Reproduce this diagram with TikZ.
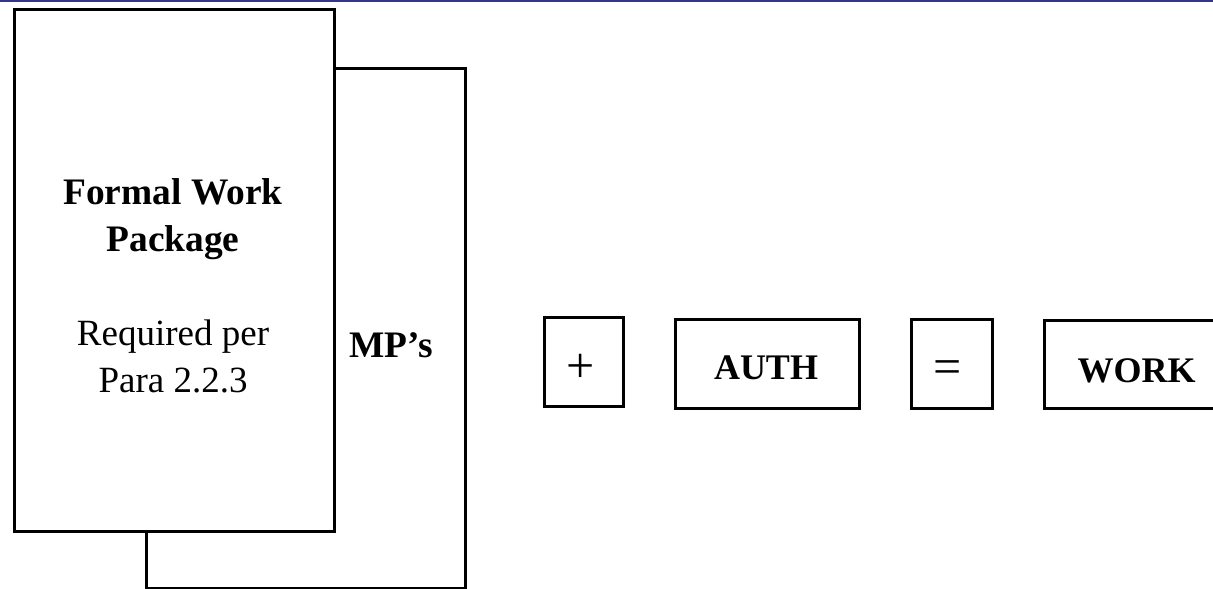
\documentclass[tikz,border=0pt]{standalone}
\usepackage{fontspec}
\setmainfont{Liberation Serif}
\begin{document}
\begin{tikzpicture}[x=0.5pt,y=-0.5pt,
  frame/.style={draw=black, line width=1.3pt, fill=white, inner sep=0pt, anchor=north west},
  txt/.style={inner sep=0pt, anchor=base, font=\fontsize{18.5}{22}\selectfont},
  btxt/.style={txt, font=\fontsize{18.7}{22}\selectfont\bfseries},
  rowtxt/.style={txt, font=\fontsize{18}{22}\selectfont\bfseries},
  sym/.style={inner sep=0pt, font=\fontsize{25}{28}\selectfont}]
  \definecolor{rulecol}{RGB}{52,54,138}
  \useasboundingbox (0,0) rectangle (1213,588);
  % top rule
  \fill[rulecol] (0,0) rectangle (1213,2);
  % stacked sheets: MP's behind, work package in front
  \node[frame, minimum width=159.5pt, minimum height=260pt] (mps) at (145,67) {};
  \node[frame, minimum width=160pt, minimum height=261pt] (pkg) at (13,8) {};
  \node[btxt] (t1) at (173,205) {Formal Work};
  \node[btxt] (t2) at (173,251) {Package};
  \node[txt]  (t3) at (173,345) {Required per};
  \node[txt]  (t4) at (173,392) {Para 2.2.3};
  \node[btxt] (t5) at (391,357) {MP’s};
  % equation row
  \node[frame, minimum width=39.5pt, minimum height=44.5pt] (plusbox) at (543,316) {};
  \node[frame, minimum width=92pt, minimum height=44.5pt] (authbox) at (674,318) {};
  \node[frame, minimum width=40.5pt, minimum height=44.5pt] (eqbox) at (910,318) {};
  \node[frame, minimum width=95pt, minimum height=44pt] (workbox) at (1043,319) {};
  \node[sym] (plus) at (581,368) {+};
  \node[sym] (eq) at (948,372) {=};
  \node[rowtxt] (auth) at (766,379) {AUTH};
  \node[rowtxt] (work) at (1136.5,382) {WORK};
\end{tikzpicture}
\end{document}
